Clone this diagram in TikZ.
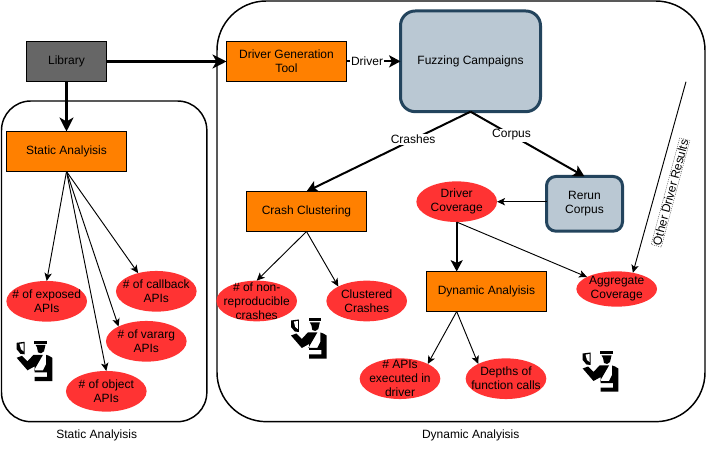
\documentclass[tikz,border=0pt]{standalone}
\usepackage{fontspec}
\setmainfont{Liberation Sans}
\usetikzlibrary{arrows.meta,shapes.geometric}
\definecolor{orangebox}{HTML}{FF8000}
\definecolor{redell}{HTML}{FF3333}
\definecolor{bluefill}{HTML}{BAC8D3}
\definecolor{blueedge}{HTML}{23445D}
\tikzset{
  every node/.style={font=\fontsize{9}{10.5}\selectfont,align=center,inner sep=0pt,outer sep=0pt},
  every label/.style={font=\fontsize{9}{10.5}\selectfont,align=center,inner sep=0pt,outer sep=0pt},
  orangerect/.style={draw=black,line width=0.75pt,fill=orangebox,minimum width=90pt,minimum height=30pt},
  redoval/.style={ellipse,fill=redell,minimum width=60.5pt,minimum height=30.5pt},
  bluebox/.style={draw=blueedge,line width=2.25pt,fill=bluefill,rounded corners=11pt},
  container/.style={draw=black,line width=1.1pt,rounded corners=#1},
  thin arrow/.style={line width=0.7pt,-{Stealth[length=6pt,width=5.5pt,inset=1.5pt]}},
  thick arrow/.style={line width=1.5pt,-{Stealth[length=8.5pt,width=9pt,inset=2pt]}},
  heavy arrow/.style={line width=2.25pt,-{Stealth[length=10.5pt,width=10.5pt,inset=3pt]}},
  edgelabel/.style={fill=white,inner sep=0.8pt},
  officer/.pic={
    \fill[black] (22.7,23.5)--(30.5,22.5)--(30.5,35)--(26.5,34.5)--(22.7,30)--cycle;
    \fill[white] (25.5,24.6)--(29.5,24)--(29.5,32)--(27,30)--cycle;
    \fill[black] (40.3,21.3)--(52.7,21.3)--(52.7,24.5)--(40.3,24.5)--cycle;
    \fill[black] (41.5,25.5)--(51.5,25.5)--(50,32)--(47,34)--(44,33)--(43,28)--cycle;
    \fill[black] (22.7,38.5)--(28,36.5)--(33.5,42)--(39.5,35.5)--(49,35.5)--(40,51)--(49,51)--(52,45)--(52,35.5)--(55,36.5)--(58.3,38.5)--(58.3,61.7)--(40.7,61.7)--(40.7,57.5)--(53,57.5)--(53,53)--(40.7,53)--(40.7,47)--(33.5,51)--cycle;
  }
}
\begin{document}
\begin{tikzpicture}[x=0.75pt,y=-0.75pt]
\useasboundingbox (0,0) rectangle (707,452);
\fill[white] (0,0) rectangle (707,452);
% containers
\node[container=22pt,minimum width=154pt,minimum height=240.5pt,anchor=north west] (staticbox) at (1.5,101) {};
\node[container=37pt,minimum width=366pt,minimum height=315.5pt,anchor=north west] (dynbox) at (217,1) {};
% rect nodes
\node[draw=black,line width=0.75pt,fill=black!60,minimum width=60pt,minimum height=30pt,anchor=north west] (lib) at (26.5,41.5) {Library};
\node[orangerect,anchor=north west] (sa) at (6.5,131.5) {Static Analyisis};
\node[orangerect,anchor=north west] (dg) at (226.5,41.5) {Driver Generation\\Tool};
\node[orangerect,anchor=north west] (cc) at (246.5,191.5) {Crash Clustering};
\node[orangerect,anchor=north west] (da) at (426.5,271.5) {Dynamic Analyisis};
\node[bluebox,minimum width=105pt,minimum height=75.5pt,anchor=north west] (fc) at (400.5,11) {Fuzzing Campaigns};
\node[bluebox,minimum width=57pt,minimum height=41pt,rounded corners=7pt,anchor=north west] (rc) at (546.5,176.5) {Rerun\\Corpus};
% ovals
\node[redoval,label=center:{\# of exposed\\APIs}] (o1) at (46.7,301.3) {};
\node[redoval,label=center:{\# of callback\\APIs}] (o2) at (156.3,291.3) {};
\node[redoval,label=center:{\# of vararg\\APIs}] (o3) at (146.3,341.3) {};
\node[redoval,label=center:{\# of object\\APIs}] (o4) at (106.3,391.3) {};
\node[redoval,label=center:{\# of non-\\reproducible\\crashes}] (o5) at (256.7,301) {};
\node[redoval,label=center:{Clustered\\Crashes}] (o6) at (366.7,301) {};
\node[redoval,label=center:{Driver\\Coverage}] (o7) at (456.7,201.7) {};
\node[redoval,minimum height=26.5pt,label=center:{Aggregate\\Coverage}] (o8) at (616.7,289) {};
\node[redoval,label=center:{\# APIs\\executed in\\driver}] (o9) at (400,378.7) {};
\node[redoval,label=center:{Depths of\\function calls}] (o10) at (506,378.7) {};
% connectors
\draw[heavy arrow] (lib.south) -- (sa.north);
\draw[heavy arrow] (lib.east) -- (dg.west);
\draw[thick arrow] (dg.east |- fc.west) -- node[edgelabel,pos=0.38]{Driver} (fc.west);
\draw[thick arrow] (fc.south) -- node[edgelabel,pos=0.35]{Crashes} (cc.north);
\draw[thick arrow] (fc.south) -- node[edgelabel,pos=0.36]{Corpus} (rc.north);
\draw[thin arrow] (rc.west |- o7.east) -- (o7.east);
\draw[thick arrow] (o7.south) -- (da.north -| o7.south);
\draw[thin arrow] (o7.south) -- (o8.158);
\draw[thin arrow] (sa.south) -- (o1.north);
\draw[thin arrow] (sa.south) -- (o2.135);
\draw[thin arrow] (sa.south) -- (o3.152);
\draw[thin arrow] (sa.south) -- (o4.north);
\draw[thin arrow] (cc.south) -- (o5.north);
\draw[thin arrow] (cc.south) -- (o6.153);
\coordinate (dafrom) at (da.south -| o7.south);
\draw[thin arrow] (dafrom) -- (o9.28);
\draw[thin arrow] (dafrom) -- (o10.152);
\coordinate (odr) at (686,81.7);
\draw[thin arrow] (odr) -- (o8.45);
\node[draw=black!75,line width=0.3pt,dash pattern=on 0.8pt off 0.8pt,fill=white,rotate=75,inner sep=0.6pt] (odl) at (670.5,192.5) {Other Driver Results};
% officers
\pic at (-6,319.3) {officer};
\pic at (268.3,297) {officer};
\pic at (560,330) {officer};
% captions
\node (cap1) at (96.7,435.7) {Static Analyisis};
\node (cap2) at (470.7,435.7) {Dynamic Analyisis};
\end{tikzpicture}
\end{document}
